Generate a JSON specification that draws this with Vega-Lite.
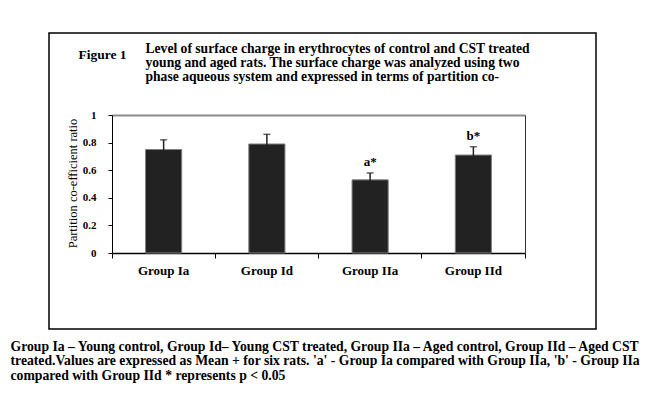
{
  "$schema": "https://vega.github.io/schema/vega-lite/v6.json",
  "width": 547,
  "height": 296,
  "autosize": {"type": "none"},
  "padding": {"left": 49, "top": 33, "right": 58, "bottom": 69},
  "background": "white",
  "config": {
    "view": {"stroke": "#000000", "strokeWidth": 1.5, "fill": "white"},
    "font": "Liberation Serif",
    "axis": {"grid": false}
  },
  "data": {
    "values": [
      {"group": "Group Ia", "value": 0.75, "lo": 0.68, "hi": 0.82, "label": ""},
      {"group": "Group Id", "value": 0.79, "lo": 0.72, "hi": 0.86, "label": ""},
      {"group": "Group IIa", "value": 0.53, "lo": 0.48, "hi": 0.58, "label": "a*"},
      {"group": "Group IId", "value": 0.71, "lo": 0.65, "hi": 0.77, "label": "b*"}
    ]
  },
  "layer": [
    {
      "mark": {"type": "bar", "width": {"band": 0.35}, "fill": "#222222", "stroke": "#808080", "strokeWidth": 1},
      "encoding": {
        "x": {
          "field": "group", "type": "nominal", "sort": null,
          "scale": {"type": "band", "range": [63, 476], "paddingInner": 0, "paddingOuter": 0},
          "axis": {
            "orient": "bottom", "offset": -76, "bandPosition": 1, "tickExtra": true,
            "domainColor": "#000000", "domainWidth": 1.5, "tickColor": "#000000", "tickSize": 5, "tickWidth": 1,
            "labelFont": "Liberation Serif", "labelFontWeight": "bold", "labelFontSize": 13, "labelColor": "#000000",
            "labelPadding": 6, "labelAngle": 0,
            "title": [
              "Group Ia – Young control, Group Id– Young CST treated, Group IIa – Aged control, Group IId – Aged CST",
              "treated.Values are expressed as Mean + for six rats. 'a' - Group Ia compared with Group IIa, 'b' - Group IIa",
              "compared with Group IId * represents p < 0.05"
            ],
            "titleX": -39, "titleY": 97, "titleAlign": "left", "titleAnchor": "start", "titleBaseline": "alphabetic",
            "titleFont": "Liberation Serif", "titleFontWeight": "bold", "titleFontSize": 13.7, "titleColor": "#000000",
            "titleLineHeight": 14.5
          }
        },
        "y": {
          "field": "value", "type": "quantitative",
          "scale": {"domain": [0, 1], "range": [220, 82], "nice": false},
          "axis": {
            "orient": "left", "offset": -63, "values": [0, 0.2, 0.4, 0.6, 0.8, 1], "format": "~g",
            "domainColor": "#000000", "domainWidth": 1, "tickColor": "#000000", "tickSize": 4, "tickWidth": 1,
            "labelFont": "Liberation Serif", "labelFontWeight": "bold", "labelFontSize": 11, "labelColor": "#000000",
            "labelPadding": 12,
            "title": "Partition co-efficient ratio",
            "titleX": -40, "titleY": 150, "titleAngle": 270, "titleAlign": "center", "titleBaseline": "middle",
            "titleFont": "Liberation Serif", "titleFontWeight": "normal", "titleFontSize": 12.5, "titleColor": "#000000"
          }
        }
      }
    },
    {
      "mark": {"type": "rule", "color": "#222222", "strokeWidth": 1.5},
      "encoding": {
        "x": {
          "field": "group", "type": "nominal", "sort": null,
          "axis": {
            "orient": "top", "offset": -82, "labels": false, "ticks": false,
            "domainColor": "#8c8c8c", "domainWidth": 2,
            "title": [
              "Level of surface charge in erythrocytes of control and CST treated",
              "young and aged rats. The surface charge was analyzed using two",
              "phase aqueous system and expressed in terms of partition co-"
            ],
            "titleX": 96, "titleY": -63, "titleAlign": "left", "titleAnchor": "start", "titleBaseline": "alphabetic",
            "titleFont": "Liberation Serif", "titleFontWeight": "bold", "titleFontSize": 13.6, "titleColor": "#000000",
            "titleLineHeight": 14
          }
        },
        "y": {
          "field": "lo", "type": "quantitative",
          "axis": {
            "orient": "right", "offset": -71, "labels": false, "ticks": false,
            "domainColor": "#333333", "domainWidth": 1,
            "title": "Figure  1",
            "titleX": -447, "titleY": 25, "titleAngle": 0, "titleAlign": "left", "titleBaseline": "alphabetic",
            "titleFont": "Liberation Serif", "titleFontWeight": "bold", "titleFontSize": 13.5, "titleColor": "#000000"
          }
        },
        "y2": {"field": "hi"}
      }
    },
    {
      "mark": {"type": "tick", "color": "#222222", "thickness": 1.5, "size": 7},
      "encoding": {
        "x": {"field": "group", "type": "nominal", "sort": null, "axis": null},
        "y": {"field": "hi", "type": "quantitative", "axis": null}
      }
    },
    {
      "mark": {"type": "tick", "color": "#222222", "thickness": 1.5, "size": 7},
      "encoding": {
        "x": {"field": "group", "type": "nominal", "sort": null, "axis": null},
        "y": {"field": "lo", "type": "quantitative", "axis": null}
      }
    },
    {
      "mark": {"type": "text", "font": "Liberation Serif", "fontWeight": "bold", "fontSize": 13, "color": "#000000", "baseline": "alphabetic", "dy": -7},
      "encoding": {
        "x": {"field": "group", "type": "nominal", "sort": null, "axis": null},
        "y": {"field": "hi", "type": "quantitative", "axis": null},
        "text": {"field": "label"}
      }
    }
  ],
  "resolve": {"axis": {"x": "independent", "y": "independent"}}
}
